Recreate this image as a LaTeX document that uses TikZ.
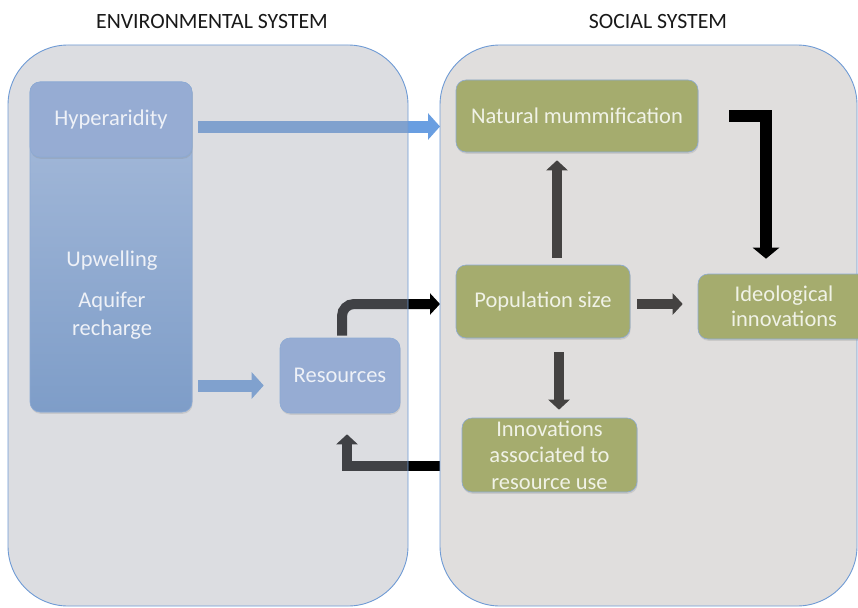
\documentclass[tikz,border=0pt]{standalone}
\usepackage{fontspec}
\setmainfont{Carlito}
\usetikzlibrary{arrows.meta,shadows,calc}
\pgfdeclarelayer{bg}
\pgfdeclarelayer{under}
\pgfdeclarelayer{panels}
\pgfsetlayers{bg,under,panels,main}
\definecolor{envfill}{RGB}{165,168,178}
\definecolor{socfill}{RGB}{176,171,168}
\definecolor{panelline}{RGB}{111,155,213}
\definecolor{bluebox}{RGB}{150,172,211}
\definecolor{bluetop}{RGB}{168,188,219}
\definecolor{bluebot}{RGB}{126,157,200}
\definecolor{olivebox}{RGB}{165,172,110}
\definecolor{boxline}{RGB}{140,170,212}
\definecolor{bluearrow}{RGB}{105,158,225}
\definecolor{txtblue}{RGB}{238,241,247}
\definecolor{txtolive}{RGB}{240,242,230}
\tikzset{
  panel/.style={draw=panelline, line width=0.9pt, rounded corners=60pt, inner sep=0pt, outer sep=0pt},
  boxbase/.style={rounded corners=10pt, line width=0.6pt, align=center, inner sep=0pt,
    font=\fontsize{22.5}{26.5}\selectfont,
    drop shadow={shadow xshift=0.6pt, shadow yshift=-1.8pt, opacity=0.22}},
  envbox/.style={boxbase, fill=bluebox, draw=boxline, text=txtblue},
  socbox/.style={boxbase, fill=olivebox, draw=boxline, text=txtolive},
  lbl/.style={text=txtblue, font=\fontsize{22.5}{28}\selectfont, align=center, inner sep=0pt},
  header/.style={font=\fontsize{21.8}{24}\selectfont, text=black!90, inner sep=0pt},
  bluearr/.style={line width=12pt, draw=bluearrow, -{Triangle[width=26pt,length=12pt]}},
  darkarr/.style={line width=10pt, draw=black, -{Triangle[width=21pt,length=10pt]}},
  toparr/.style={line width=12pt, draw=black, miter limit=10, -{Triangle[width=26pt,length=11pt]}}
}
\begin{document}
\begin{tikzpicture}[x=1pt,y=-1pt]
\useasboundingbox (0,0) rectangle (858,607);
\begin{pgfonlayer}{bg}
\fill[white] (0,0) rectangle (858,607);
\end{pgfonlayer}
\begin{pgfonlayer}{panels}
\node[panel, fill=envfill, fill opacity=0.39, minimum width=400pt, minimum height=561pt] (env) at (208,325.5) {};
\node[panel, fill=socfill, fill opacity=0.39, minimum width=417pt, minimum height=561pt] (soc) at (648.5,325.5) {};
\end{pgfonlayer}
\node[header] (envt) at (212,22) {ENVIRONMENTAL SYSTEM};
\node[header] (soct) at (658,22) {SOCIAL SYSTEM};
% environmental boxes
\node[envbox, top color=bluetop, bottom color=bluebot, minimum width=162pt, minimum height=330pt] (tall) at (111,247) {};
\node[envbox, minimum width=162pt, minimum height=75pt] (hyp) at (111,119.5) {\raisebox{-7pt}{Hyperaridity}};
\node[lbl] (upw) at (112,261) {Upwelling};
\node[lbl] (aq) at (112,316) {Aquifer\\recharge};
\node[envbox, minimum width=120pt, minimum height=75pt] (res) at (340,375.5) {\raisebox{-2.5pt}{Resources}};
% social boxes
\node[socbox, minimum width=242pt, minimum height=72pt] (nat) at (577,116) {\raisebox{-5pt}{Natural mummification}};
\node[socbox, minimum width=174pt, minimum height=73pt] (pop) at (543,301.5) {\raisebox{-6pt}{Population size}};
\node[socbox, minimum width=172pt, minimum height=65pt] (ideo) at (784,306.5) {\raisebox{-1.5pt}{Ideological}\\innovations};
\node[socbox, minimum width=175pt, minimum height=74pt] (inn) at (549.5,455) {Innovations\\associated to\\resource use};
% arrows beneath the panels
\begin{pgfonlayer}{under}
\draw[bluearr] ($(hyp.east)+(6,7)$) -- ($(hyp.east -| soc.west)+(0,7)$);
\draw[bluearr] ($(tall.east |- res.west)+(6,10)$) -- ($(res.west)+(-16,10)$);
\draw[darkarr, rounded corners=12pt] ($(res.north)+(2,-2)$) |- ($(pop.west -| soc.west)+(0,2.5)$);
\draw[darkarr] ($(pop.north)+(14,-7)$) -- ($(pop.north |- nat.south)+(14,8)$);
\draw[darkarr] ($(pop.east)+(7,2.5)$) -- ($(pop.east -| ideo.west)+(-15,2.5)$);
\draw[darkarr] ($(pop.south)+(16,14)$) -- ($(pop.south |- inn.north)+(16,-8)$);
\draw[darkarr] ($(soc.west |- inn.west)+(0,11)$) -| ($(res.south)+(7,21)$);
\end{pgfonlayer}
% arrow on top
\draw[toparr] ($(nat.east)+(31,0)$) -| ($(ideo.north)+(-18,-15)$);
\end{tikzpicture}
\end{document}
